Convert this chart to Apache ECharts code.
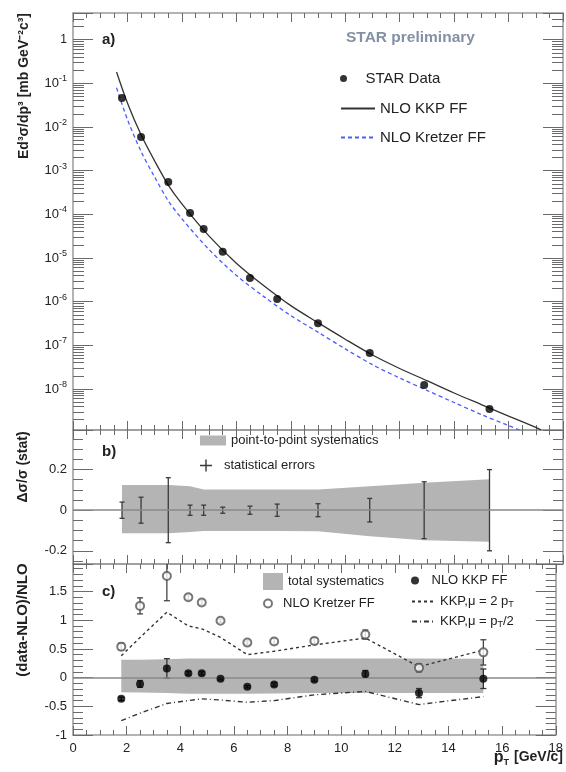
<!DOCTYPE html>
<html><head><meta charset="utf-8">
<script src="https://cdn.jsdelivr.net/npm/echarts@6/dist/echarts.min.js"></script>
<style>html,body{margin:0;padding:0;background:#fff}#c{width:566px;height:772px}</style>
</head><body><div id="c"></div>
<script>
// ---------- data ----------
const ptData = [1.8, 2.5, 3.5, 4.3, 4.8, 5.5, 6.5, 7.5, 9.0, 10.9, 12.9, 15.3];
const xsecData = [0.046, 5.9e-3, 5.5e-4, 1.07e-4, 4.6e-5, 1.38e-5, 3.5e-6, 1.15e-6, 3.2e-7, 6.7e-8, 1.24e-8, 3.5e-9];
const ptKKP = [1.6, 2, 2.5, 3, 3.5, 4, 5, 6, 7, 8, 9, 10, 11, 12, 13, 14, 15, 16, 17, 17.2];
const xsecKKP = [0.182, 0.0355, 6.6e-3, 1.66e-3, 4.68e-4, 1.74e-4, 3.16e-5, 7.6e-6, 2.34e-6, 8.1e-7, 3.3e-7, 1.38e-7, 6.0e-8, 2.95e-8, 1.55e-8, 8.1e-9, 4.4e-9, 2.4e-9, 1.32e-9, 1.15e-9];
const ptKretzer = [1.6, 2, 2.5, 3, 3.5, 4, 5, 6, 7, 8, 9, 10, 11, 12, 13, 14, 15, 16, 16.4];
const xsecKretzer = [0.079, 0.0148, 2.75e-3, 7.1e-4, 2.04e-4, 7.9e-5, 1.55e-5, 4.0e-6, 1.32e-6, 4.8e-7, 2.0e-7, 8.3e-8, 3.6e-8, 1.78e-8, 9.3e-9, 4.9e-9, 2.6e-9, 1.45e-9, 1.15e-9];
// panel b
const statErr = [0.04, 0.064, 0.16, 0.025, 0.025, 0.015, 0.02, 0.03, 0.032, 0.058, 0.14, 0.2];
const sysP2PUp = [0.124, 0.124, 0.124, 0.118, 0.102, 0.102, 0.102, 0.102, 0.102, 0.118, 0.135, 0.153];
const sysP2PLo = [-0.114, -0.114, -0.114, -0.108, -0.102, -0.102, -0.102, -0.102, -0.104, -0.128, -0.148, -0.156];
// panel c
const ratioKKP = [-0.37, -0.11, 0.16, 0.075, 0.075, -0.02, -0.16, -0.12, -0.035, 0.065, -0.27, -0.02];
const ratioKKPErr = [0.03, 0.06, 0.17, 0.03, 0.03, 0.02, 0.02, 0.03, 0.03, 0.06, 0.08, 0.17];
const ratioKretzer = [0.54, 1.25, 1.77, 1.40, 1.31, 0.99, 0.61, 0.63, 0.64, 0.75, 0.17, 0.44];
const ratioKretzerErr = [0.06, 0.14, 0.43, 0.04, 0.04, 0.03, 0.03, 0.05, 0.05, 0.08, 0.07, 0.22];
const ratioMu2pT = [0.38, 0.70, 1.14, 0.90, 0.85, 0.70, 0.40, 0.46, 0.57, 0.69, 0.19, 0.48];
const ratioMuHalf = [-0.75, -0.62, -0.45, -0.40, -0.37, -0.39, -0.43, -0.40, -0.30, -0.24, -0.47, -0.33];
const sysTotUp = [0.31, 0.31, 0.32, 0.335, 0.335, 0.335, 0.335, 0.335, 0.335, 0.335, 0.335, 0.33];
const sysTotLo = [-0.255, -0.26, -0.27, -0.28, -0.28, -0.28, -0.28, -0.275, -0.27, -0.27, -0.27, -0.27];
// axes
const xMin = 0, xMax = 18, xStep = 2;
const yMinA = 1.15e-9, yMaxA = 4.07;
const yMinB = -0.265, yMaxB = 0.395;
const yMinC = -1, yMaxC = 1.98, yStepC = 0.5;

// ---------- helpers ----------
const FONT = "'Liberation Sans', Arial, Helvetica, sans-serif";
const AX = '#9a9a9a', TK = '#6a6a6a', TXT = '#222';
const pairs = (xs, ys) => xs.map((x, i) => [x, ys[i]]);
const triples = (xs, ys, es) => xs.map((x, i) => [x, ys[i], es[i]]);

function xAx(grid, pos, labels) {
  return {
    type: 'value', gridIndex: grid, position: pos, min: xMin, max: xMax, interval: xStep,
    axisLine: { show: true, onZero: false, lineStyle: { color: AX, width: 1.5 } },
    axisTick: { show: true, inside: true, length: 9, lineStyle: { color: TK } },
    minorTick: { show: true, splitNumber: 4, length: 5, lineStyle: { color: TK } },
    splitLine: { show: false },
    axisLabel: { show: labels, fontFamily: FONT, fontSize: 13, color: TXT, margin: 7 }
  };
}
function logLabel(v) {
  const l = Math.log10(v), e = Math.round(l);
  if (Math.abs(l - e) > 1e-6) return '';
  if (e === 0) return '1';
  return '{b|10}{s|' + e + '}';
}
function yLog(pos, labels) {
  return {
    type: 'log', logBase: 10, gridIndex: 0, position: pos, min: yMinA, max: yMaxA,
    axisLine: { show: true, onZero: false, lineStyle: { color: AX, width: 1.5 } },
    axisTick: { show: true, inside: true, length: 20, lineStyle: { color: TK } },
    minorTick: { show: true, splitNumber: 9, length: 11, lineStyle: { color: TK } },
    splitLine: { show: false },
    axisLabel: { show: labels, formatter: logLabel, margin: 6, color: TXT, fontFamily: FONT,
      rich: { b: { fontSize: 13, fontFamily: FONT, color: TXT },
              s: { fontSize: 9, fontFamily: FONT, color: TXT, padding: [0, 0, 9, 0] } } }
  };
}
function yLin(grid, pos, labels, min, max, extra, minorSplit, step) {
  return Object.assign({
    type: 'value', gridIndex: grid, position: pos, min, max,
    axisLine: { show: true, onZero: false, lineStyle: { color: AX, width: 1.5 } },
    axisTick: { show: true, inside: true, length: 20, lineStyle: { color: TK } },
    minorTick: { show: true, splitNumber: minorSplit, length: 10, lineStyle: { color: TK } },
    splitLine: { show: false },
    axisLabel: { show: labels, margin: 6, fontFamily: FONT, fontSize: 13, color: TXT,
      formatter: v => (Math.abs(v / step - Math.round(v / step)) < 1e-6 ? String(+v.toFixed(2)) : '') }
  }, extra);
}
function errorBars(color, cap) {
  return function (params, api) {
    const x = api.value(0), y = api.value(1), e = api.value(2);
    const hi = api.coord([x, y + e]), lo = api.coord([x, y - e]);
    const st = { stroke: color, lineWidth: 1.3, opacity: 1 };
    return { type: 'group', children: [
      { type: 'line', shape: { x1: hi[0], y1: hi[1], x2: lo[0], y2: lo[1] }, style: st },
      { type: 'line', shape: { x1: hi[0] - cap, y1: hi[1], x2: hi[0] + cap, y2: hi[1] }, style: st },
      { type: 'line', shape: { x1: lo[0] - cap, y1: lo[1], x2: lo[0] + cap, y2: lo[1] }, style: st }
    ] };
  };
}
function band(xs, lo, hi, color) {
  return function (params, api) {
    if (params.dataIndex !== 0) return null;
    const pts = [];
    for (let i = 0; i < xs.length; i++) pts.push(api.coord([xs[i], hi[i]]));
    for (let i = xs.length - 1; i >= 0; i--) pts.push(api.coord([xs[i], lo[i]]));
    return { type: 'polygon', shape: { points: pts }, style: { fill: color } };
  };
}
const zeroLine = { silent: true, symbol: 'none', label: { show: false }, animation: false,
  lineStyle: { color: '#8a8a8a', width: 1.5, type: 'solid' }, data: [{ yAxis: 0 }] };

const LEG = {
  data: 'STAR Data', kkp: 'NLO KKP FF', kre: 'NLO Kretzer FF',
  sysb: 'point-to-point systematics', stat: 'statistical errors',
  sysc: 'total systematics', krec: 'NLO Kretzer FF', kkpc: 'NLO KKP FF',
  mu2: 'KKP,μ = 2 p{sub|T}', muh: 'KKP,μ = p{sub|T}/2'
};
function leg(name, left, top, icon, w, h, fs) {
  const item = icon ? { name, icon } : { name };
  const l = {
    left, top, padding: 0, itemGap: 0, itemWidth: w, itemHeight: h, selectedMode: false,
    data: [item],
    formatter: n => LEG[n],
    textStyle: { fontFamily: FONT, fontSize: fs, color: TXT,
      rich: { sub: { fontSize: fs - 4, fontFamily: FONT, color: TXT, padding: [6, 0, 0, 0] } } }
  };
  if (!icon) l.itemStyle = { opacity: 0 };   // line-only legend entries: hide the symbol
  return l;
}

const SYS = '#b4b4b4';
const option = {
  animation: false,
  backgroundColor: '#fff',
  textStyle: { fontFamily: FONT },
  grid: [
    { left: 73, right: 3, top: 13, height: 417 },
    { left: 73, right: 3, top: 430, height: 134 },
    { left: 73, right: 3, top: 564, height: 171 }
  ],
  xAxis: [xAx(0, 'bottom', false), xAx(0, 'top', false), xAx(1, 'bottom', false), xAx(1, 'top', false),
          xAx(2, 'bottom', true), xAx(2, 'top', false)],
  yAxis: [yLog('left', true), yLog('right', false),
          yLin(1, 'left', true, yMinB, yMaxB, { splitNumber: 3 }, 4, 0.2),
          yLin(1, 'right', false, yMinB, yMaxB, { splitNumber: 3 }, 4, 0.2),
          yLin(2, 'left', true, yMinC, yMaxC, { interval: yStepC }, 5, 0.5),
          yLin(2, 'right', false, yMinC, yMaxC, { interval: yStepC }, 5, 0.5)],
  legend: [
    leg('data', 340, 71, 'circle', 34, 7, 15),
    leg('kkp', 340, 101, null, 34, 7, 15),
    leg('kre', 340, 130, null, 34, 7, 15),
    leg('sysb', 200, 434, 'rect', 26, 10, 13),
    leg('stat', 200, 459, 'path://M0,4.4h10v1.2h-10zM4.4,0h1.2v10h-1.2z', 26, 12, 13),
    leg('sysc', 263, 573, 'rect', 20, 17, 13),
    leg('krec', 263, 597, 'emptyCircle', 20, 8, 13),
    leg('kkpc', 411, 574, 'circle', 23, 8, 13),
    leg('mu2', 411, 595, null, 23, 8, 13),
    leg('muh', 411, 615, null, 23, 8, 13)
  ],
  title: [
    { text: 'a)', left: 102, top: 32, padding: 0, textStyle: { fontFamily: FONT, fontSize: 15, fontWeight: 'bold', color: TXT } },
    { text: 'b)', left: 102, top: 444, padding: 0, textStyle: { fontFamily: FONT, fontSize: 15, fontWeight: 'bold', color: TXT } },
    { text: 'c)', left: 102, top: 584, padding: 0, textStyle: { fontFamily: FONT, fontSize: 15, fontWeight: 'bold', color: TXT } },
    { text: 'STAR preliminary', left: 346, top: 30, padding: 0, textStyle: { fontFamily: FONT, fontSize: 15.5, fontWeight: 'bold', color: '#8490a4' } },
    { text: '{p|p}{t|T} {u|[GeV/c]}', right: 3, top: 748, padding: 0,
      textStyle: { rich: { p: { fontFamily: FONT, fontSize: 16, color: TXT },
                           t: { fontFamily: FONT, fontSize: 9, color: TXT, padding: [10, 0, 0, 0] },
                           u: { fontFamily: FONT, fontSize: 14, color: TXT } } } }
  ],
  graphic: [
    { type: 'text', x: 24, y: 86, rotation: Math.PI / 2,
      style: { text: 'Ed³σ/dp³ [mb GeV⁻²c³]', font: 'bold 14px ' + FONT, fill: TXT, textAlign: 'center', textVerticalAlign: 'middle' } },
    { type: 'text', x: 23, y: 467, rotation: Math.PI / 2,
      style: { text: 'Δσ/σ (stat)', font: 'bold 14px ' + FONT, fill: TXT, textAlign: 'center', textVerticalAlign: 'middle' } },
    { type: 'text', x: 23, y: 620, rotation: Math.PI / 2,
      style: { text: '(data-NLO)/NLO', font: 'bold 15px ' + FONT, fill: TXT, textAlign: 'center', textVerticalAlign: 'middle' } }
  ],
  series: [
    // panel a
    { name: 'kkp', type: 'line', xAxisIndex: 0, yAxisIndex: 0, data: pairs(ptKKP, xsecKKP), smooth: 0.3,
      symbol: 'none', showSymbol: false, clip: true, itemStyle: { color: '#333' }, lineStyle: { color: '#333', width: 1.3 }, z: 3 },
    { name: 'kre', type: 'line', xAxisIndex: 0, yAxisIndex: 0, data: pairs(ptKretzer, xsecKretzer), smooth: 0.3,
      symbol: 'none', showSymbol: false, clip: true, itemStyle: { color: '#4a5cff' }, lineStyle: { color: '#4a5cff', width: 1.3, type: [4, 3] }, z: 3 },
    { name: 'data', type: 'scatter', xAxisIndex: 0, yAxisIndex: 0, data: pairs(ptData, xsecData), symbol: 'circle',
      symbolSize: 8, itemStyle: { color: '#000' }, z: 5 },
    // panel b
    { name: 'sysb', type: 'custom', xAxisIndex: 2, yAxisIndex: 2, renderItem: band(ptData, sysP2PLo, sysP2PUp, SYS),
      data: triples(ptData, sysP2PLo, sysP2PUp), encode: { x: 0, y: [1, 2] }, itemStyle: { color: SYS }, z: 1 },
    { name: 'stat', type: 'custom', xAxisIndex: 2, yAxisIndex: 2, renderItem: errorBars('#3a3a3a', 2.5),
      data: triples(ptData, ptData.map(() => 0), statErr), encode: { x: 0, y: 1 }, itemStyle: { color: '#3a3a3a' },
      markLine: zeroLine, z: 4 },
    // panel c
    { name: 'sysc', type: 'custom', xAxisIndex: 4, yAxisIndex: 4, renderItem: band(ptData, sysTotLo, sysTotUp, SYS),
      data: triples(ptData, sysTotLo, sysTotUp), encode: { x: 0, y: [1, 2] }, itemStyle: { color: SYS }, z: 1 },
    { name: 'mu2', type: 'line', xAxisIndex: 4, yAxisIndex: 4, data: pairs(ptData, ratioMu2pT), symbol: 'none', showSymbol: false,
      itemStyle: { color: '#333' }, lineStyle: { color: '#333', width: 1.4, type: [3, 3] }, z: 3 },
    { name: 'muh', type: 'line', xAxisIndex: 4, yAxisIndex: 4, data: pairs(ptData, ratioMuHalf), symbol: 'none', showSymbol: false,
      itemStyle: { color: '#333' }, lineStyle: { color: '#333', width: 1.4, type: [5, 3, 1, 3] }, z: 3 },
    { name: 'kreErr', type: 'custom', xAxisIndex: 4, yAxisIndex: 4, renderItem: errorBars('#444', 3), clip: true,
      data: triples(ptData, ratioKretzer, ratioKretzerErr), encode: { x: 0, y: 1 }, itemStyle: { color: '#444' }, z: 4 },
    { name: 'kkpErr', type: 'custom', xAxisIndex: 4, yAxisIndex: 4, renderItem: errorBars('#333', 3), clip: true,
      data: triples(ptData, ratioKKP, ratioKKPErr), encode: { x: 0, y: 1 }, itemStyle: { color: '#333' }, z: 4,
      markLine: zeroLine },
    { name: 'krec', type: 'scatter', xAxisIndex: 4, yAxisIndex: 4, data: pairs(ptData, ratioKretzer), symbol: 'emptyCircle',
      symbolSize: 8, itemStyle: { color: '#555', borderColor: '#555', borderWidth: 1.2 }, z: 5 },
    { name: 'kkpc', type: 'scatter', xAxisIndex: 4, yAxisIndex: 4, data: pairs(ptData, ratioKKP), symbol: 'circle',
      symbolSize: 8, itemStyle: { color: '#000' }, z: 5 }
  ]
};
const chart = echarts.init(document.getElementById('c'), null, { renderer: 'canvas' });
chart.setOption(option);
</script>
</body></html>
